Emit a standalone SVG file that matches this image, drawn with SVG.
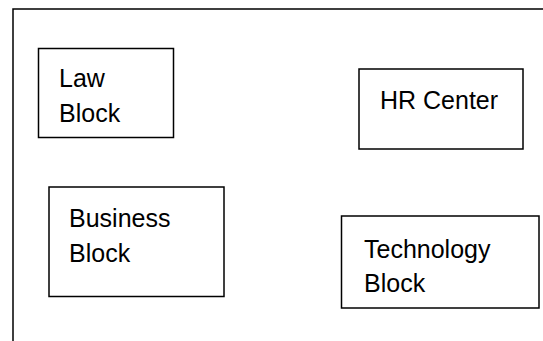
<svg xmlns="http://www.w3.org/2000/svg" width="543" height="341" viewBox="0 0 543 341">
<style>
.box{fill:#fff;stroke:#000;stroke-width:1.5}
.frame{fill:none;stroke:#000;stroke-width:1.5}
.lbl{font-family:"Liberation Sans",Arial,sans-serif;font-size:25px;fill:#000}
</style>
<rect width="543" height="341" fill="#fff"/>
<g id="frame">
<path class="frame" d="M13,341 V9 H543"/>
</g>
<g id="connectors"></g>
<g id="law-block">
<rect class="box" x="38.5" y="48.5" width="135" height="89"/>
<text class="lbl" x="59" y="87">Law</text>
<text class="lbl" x="59" y="122">Block</text>
</g>
<g id="hr-center">
<rect class="box" x="359" y="69" width="164" height="80"/>
<text class="lbl" x="380" y="109">HR Center</text>
</g>
<g id="business-block">
<rect class="box" x="49" y="187" width="175" height="109.5"/>
<text class="lbl" x="69" y="226.5">Business</text>
<text class="lbl" x="69" y="261.5">Block</text>
</g>
<g id="technology-block">
<rect class="box" x="341.5" y="216" width="197.5" height="92"/>
<text class="lbl" x="364" y="258">Technology</text>
<text class="lbl" x="364" y="291.5">Block</text>
</g>
</svg>
